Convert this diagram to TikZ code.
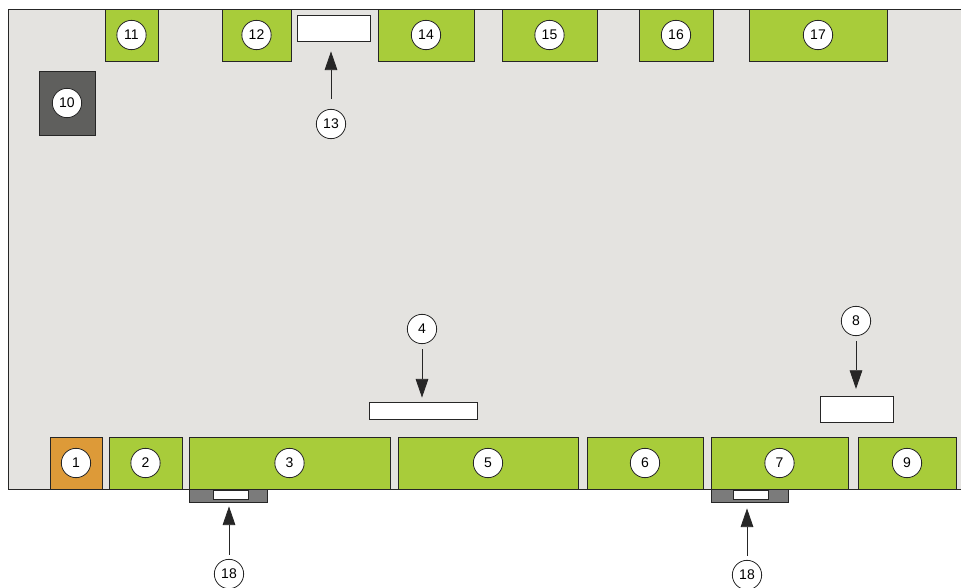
\documentclass[tikz,border=0pt]{standalone}
\usepackage{fontspec}
\setmainfont{Liberation Sans}
\usetikzlibrary{arrows.meta,fit}
\definecolor{boardgray}{HTML}{E4E3E0}
\definecolor{partgreen}{HTML}{A8CC3A}
\definecolor{partorange}{HTML}{DD9A38}
\definecolor{partdark}{HTML}{5F5F5D}
\definecolor{latchgray}{HTML}{7B7B7B}
\begin{document}
\begin{tikzpicture}[x=0.75pt, y=-0.75pt,
	part/.style={draw=black!85, line width=0.6pt, inner sep=0pt, fill=partgreen},
	slot/.style={draw=black!85, line width=0.6pt, inner sep=0pt, fill=white},
	num/.style={circle, draw=black!85, line width=0.6pt, fill=white, inner sep=0pt, minimum size=22pt, font=\fontsize{10.5}{12}\selectfont},
	pointer/.style={-{Triangle[length=14pt, width=9.5pt]}, line width=0.6pt, black!85}]
	\useasboundingbox (0,0) rectangle (961,588);
	% board
	\fill[boardgray] (8,9) rectangle (961,489);
	\draw[black!85, line width=0.7pt] (961,9) -- (8,9) -- (8,489) -- (961,489);
	% top edge
	\node[part, fit={(105,9) (158,61)}] (p11) {};
	\node[part, fit={(222,9) (291,61)}] (p12) {};
	\node[slot, fit={(297,15) (370,41)}] (b13) {};
	\node[part, fit={(378,9) (474,61)}] (p14) {};
	\node[part, fit={(502,9) (597,61)}] (p15) {};
	\node[part, fit={(639,9) (713,61)}] (p16) {};
	\node[part, fit={(749,9) (887,61)}] (p17) {};
	\node[part, fill=partdark, fit={(39,71) (95,135)}] (p10) {};
	% bottom edge
	\node[part, fill=partorange, fit={(50,437) (102,489)}] (p1) {};
	\node[part, fit={(109,437) (182,489)}] (p2) {};
	\node[part, fit={(189,437) (390,489)}] (p3) {};
	\node[slot, fit={(369,402) (477,419)}] (b4) {};
	\node[part, fit={(398,437) (578,489)}] (p5) {};
	\node[part, fit={(587,437) (703,489)}] (p6) {};
	\node[part, fit={(711,437) (848,489)}] (p7) {};
	\node[slot, fit={(820,396) (893,422)}] (b8) {};
	\node[part, fit={(858,437) (956,489)}] (p9) {};
	% latches
	\node[part, fill=latchgray, fit={(189,489) (267,502)}] (l18a) {};
	\node[slot, fit={(213,490) (248,499)}] (w18a) {};
	\node[part, fill=latchgray, fit={(711,489) (788,502)}] (l18b) {};
	\node[slot, fit={(733,490) (768,499)}] (w18b) {};
	% numbers
	\node[num] (n1) at (p1) {1};
	\node[num] (n2) at (p2) {2};
	\node[num] (n3) at (p3) {3};
	\node[num] (n4) at (422,329) {4};
	\node[num] (n5) at (p5) {5};
	\node[num] (n6) at (p6) {6};
	\node[num] (n7) at (p7) {7};
	\node[num] (n8) at (856,321) {8};
	\node[num] (n9) at (p9) {9};
	\node[num] (n10) at (p10) {10};
	\node[num] (n11) at (p11) {11};
	\node[num] (n12) at (p12) {12};
	\node[num] (n13) at (331,124) {13};
	\node[num] (n14) at (p14) {14};
	\node[num] (n15) at (p15) {15};
	\node[num] (n16) at (p16) {16};
	\node[num] (n17) at (p17) {17};
	\node[num] (n18a) at (229,574) {18};
	\node[num] (n18b) at (747,575) {18};
	% arrows
	\draw[pointer, shorten <=7.5pt, shorten >=7.5pt] (n13.north) -- (n13 |- b13.south);
	\draw[pointer, shorten <=3.75pt, shorten >=3pt] (n4.south) -- (n4 |- b4.north);
	\draw[pointer, shorten <=3.75pt, shorten >=5pt] (n8.south) -- (n8 |- b8.north);
	\draw[pointer, shorten <=3pt, shorten >=3pt] (n18a.north) -- (n18a |- l18a.south);
	\draw[pointer, shorten <=3pt, shorten >=4.5pt] (n18b.north) -- (n18b |- l18b.south);
\end{tikzpicture}
\end{document}
